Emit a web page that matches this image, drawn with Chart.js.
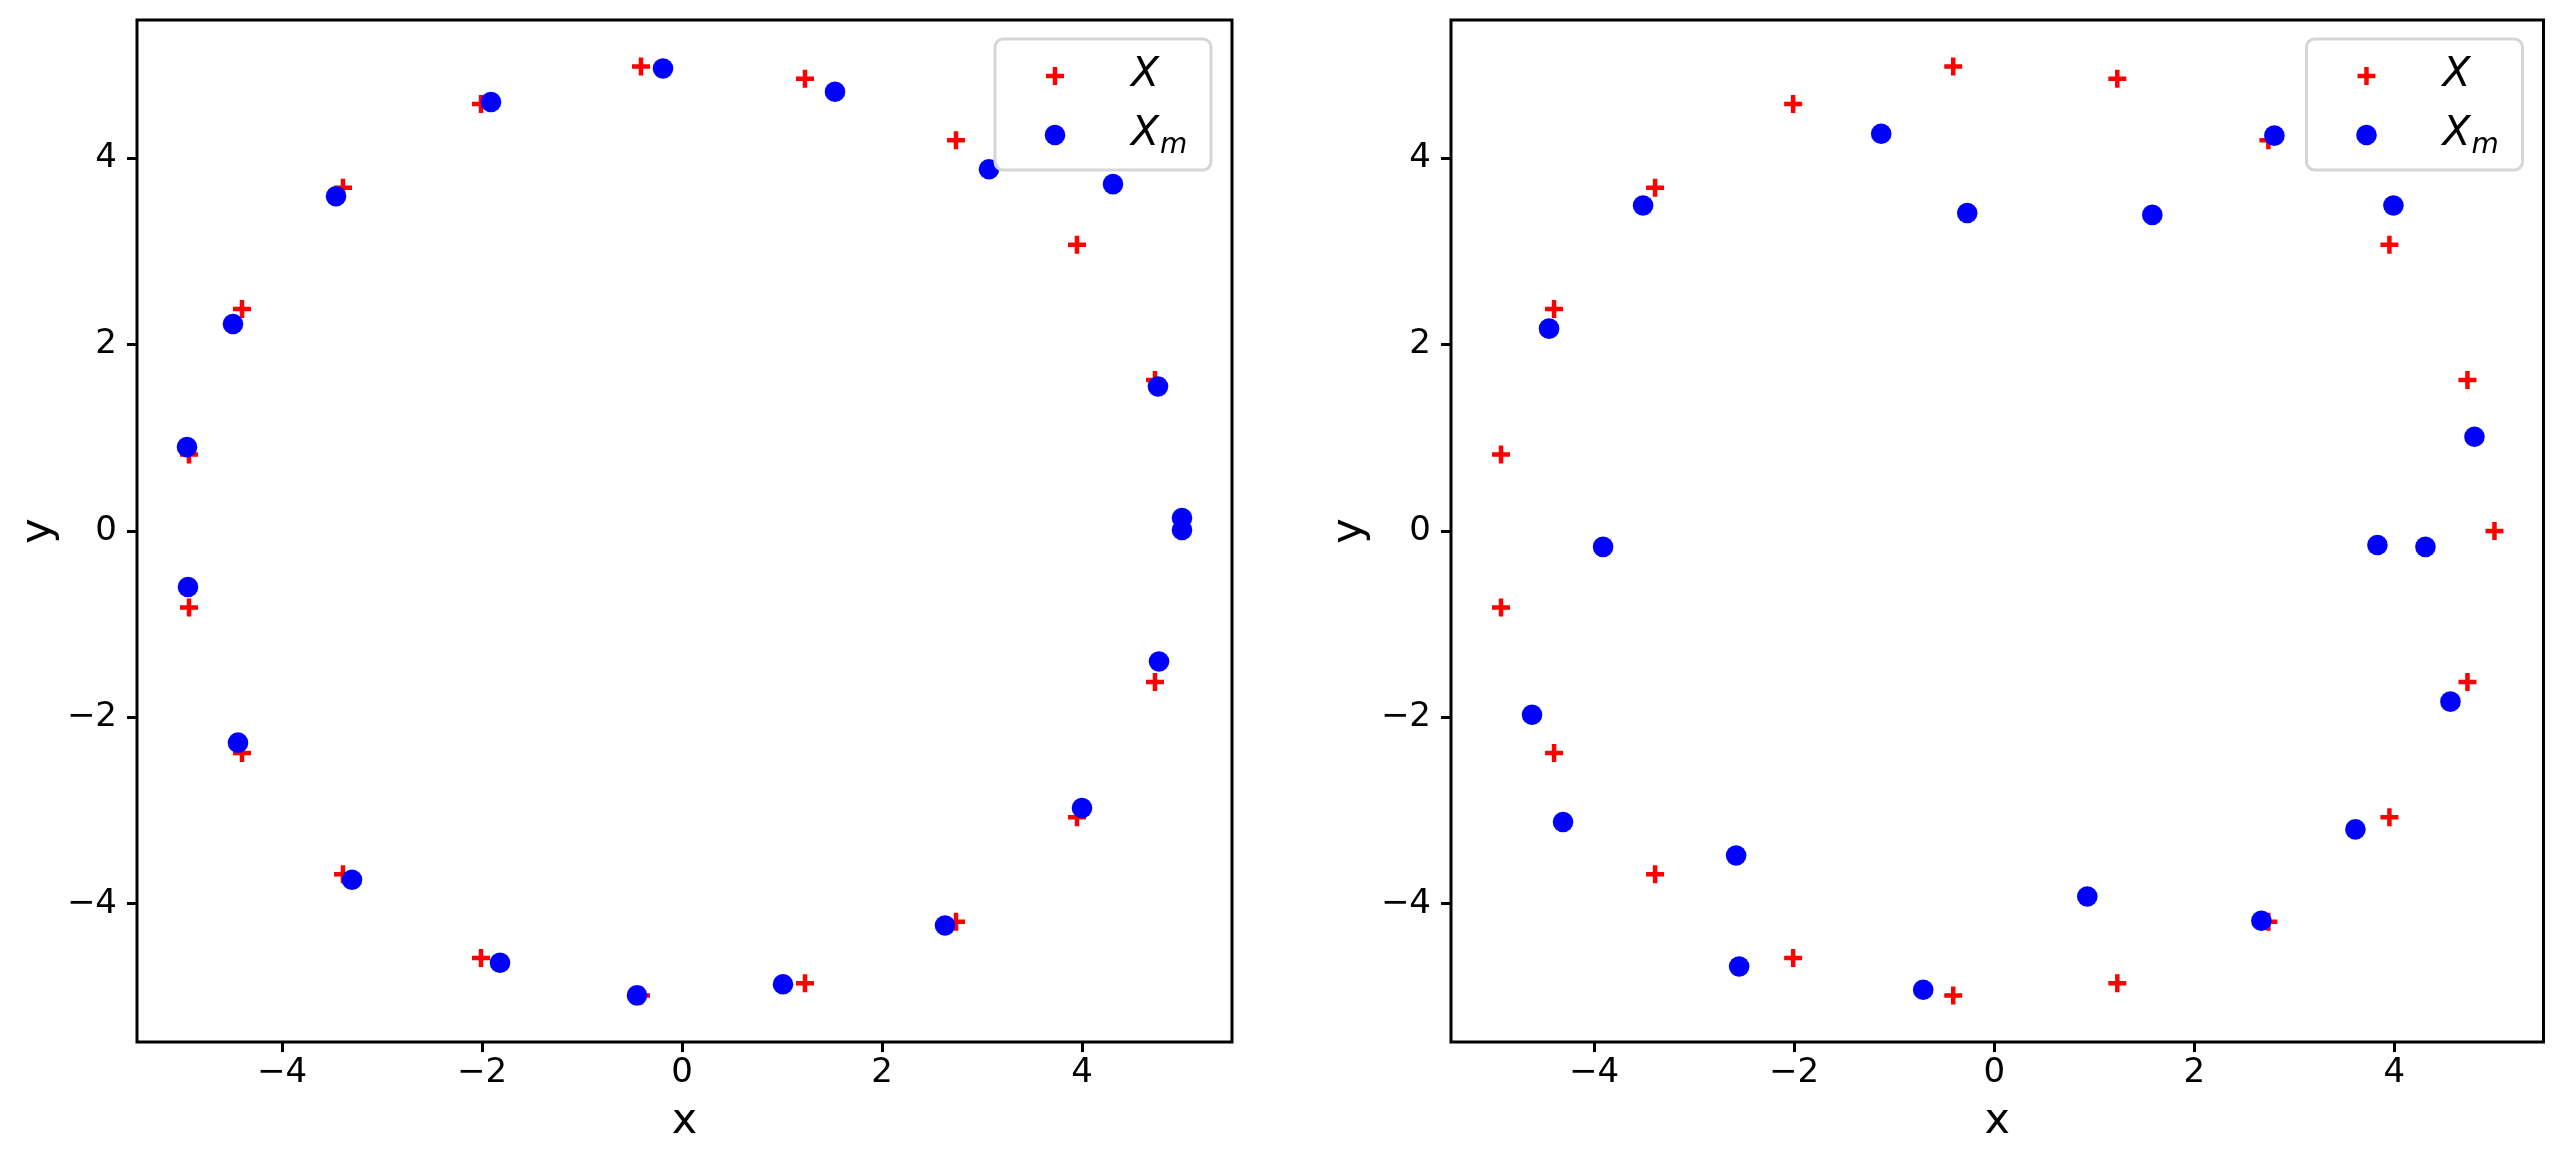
<!DOCTYPE html>
<html>
<head>
<meta charset="utf-8">
<script src="https://cdn.jsdelivr.net/npm/chart.js@4.4.1/dist/chart.umd.min.js"></script>
<style>
  html, body { margin: 0; padding: 0; background: #fff; overflow: hidden; }
  .panel { position: absolute; top: 0; }
</style>
</head>
<body>
<div class="panel" style="left:0"><canvas id="leftChart" width="1262" height="1157"></canvas></div>
<div class="panel" style="left:1290px"><canvas id="rightChart" width="1268" height="1157"></canvas></div>
<script>
// tick labels
const xTicks = [-4, -2, 0, 2, 4];
const yTicks = [-4, -2, 0, 2, 4];

// X : the points on the circle (same in both panels)
const trueX = [5.00, 4.73, 3.95, 2.74, 1.23, -0.41, -2.01, -3.39, -4.40, -4.93,
               -4.93, -4.40, -3.39, -2.01, -0.41, 1.23, 2.74, 3.95, 4.73];
const trueY = [0.00, 1.62, 3.07, 4.19, 4.85, 4.98, 4.58, 3.68, 2.38, 0.82,
               -0.82, -2.38, -3.68, -4.58, -4.98, -4.85, -4.19, -3.07, -1.62];

// X_m, left panel
const leftMx = [-0.19, 1.53, 3.07, 4.31, 4.76, 5.00, 5.00, 4.77, 4.00, 2.63,
                1.01, -0.45, -1.82, -3.30, -4.44, -4.94, -4.95, -4.49, -3.46, -1.91];
const leftMy = [4.96, 4.71, 3.88, 3.72, 1.55, 0.14, 0.01, -1.40, -2.97, -4.23,
                -4.86, -4.98, -4.63, -3.74, -2.27, -0.60, 0.90, 2.22, 3.59, 4.60];

// X_m, right panel
const rightMx = [-1.13, 2.80, -3.51, -0.27, 1.58, 3.99, -4.45, 4.80, -3.91, 3.83,
                 4.31, -4.62, 4.56, -4.31, 3.61, -2.58, 0.93, 2.67, -2.55, -0.71];
const rightMy = [4.26, 4.24, 3.49, 3.41, 3.39, 3.49, 2.17, 1.01, -0.17, -0.15,
                 -0.17, -1.97, -1.83, -3.12, -3.20, -3.48, -3.92, -4.18, -4.67, -4.92];

const FONT = "'DejaVu Sans', sans-serif";

function toPoints(xs, ys) {
  return xs.map((x, i) => ({ x: x, y: ys[i] }));
}

function tickLabel(v) {
  return v < 0 ? '\u2212' + Math.abs(v) : String(v);
}

const framePlugin = {
  id: 'frame',
  afterDatasetsDraw(chart) {
    const { ctx, chartArea: a } = chart;
    ctx.save();
    ctx.strokeStyle = '#000';
    ctx.lineWidth = 3;
    ctx.strokeRect(a.left, a.top, a.right - a.left, a.bottom - a.top);
    ctx.restore();
  }
};

// matplotlib style legend box in the upper right corner
const boxLegend = {
  id: 'boxLegend',
  afterDraw(chart) {
    const { ctx, chartArea: a } = chart;
    const w = 216, h = 131;
    const left = a.right - 21 - w, top = a.top + 19;
    ctx.save();
    ctx.beginPath();
    ctx.roundRect(left, top, w, h, 8);
    ctx.fillStyle = 'rgba(255,255,255,0.8)';
    ctx.fill();
    ctx.strokeStyle = '#d6d6d6';
    ctx.lineWidth = 3;
    ctx.stroke();

    chart.data.datasets.forEach((ds, i) => {
      const cy = top + 37 + i * 59;
      ctx.fillStyle = ds.backgroundColor;
      ctx.strokeStyle = ds.borderColor;
      ctx.lineWidth = ds.borderWidth;
      Chart.helpers.drawPoint(ctx, {
        pointStyle: ds.pointStyle, radius: ds.pointRadius,
        borderWidth: ds.borderWidth, rotation: 0
      }, left + 60, cy);

      const [base, sub] = ds.label.split('_');
      const tx = left + 136, baseline = cy + 10;
      ctx.fillStyle = '#000';
      ctx.textBaseline = 'alphabetic';
      ctx.textAlign = 'left';
      ctx.font = 'italic 41px ' + FONT;
      ctx.fillText(base, tx, baseline);
      if (sub) {
        const bw = ctx.measureText(base).width;
        ctx.font = 'italic 28px ' + FONT;
        ctx.fillText(sub, tx + bw + 1, baseline + 8);
      }
    });
    ctx.restore();
  }
};

function makeChart(id, mx, my, xMin, xMax, yWidth, rightPad, yTitlePad) {
  const ctx = document.getElementById(id).getContext('2d');
  return new Chart(ctx, {
    type: 'scatter',
    data: {
      datasets: [{
        label: 'X',
        data: toPoints(trueX, trueY),
        pointStyle: 'cross',
        pointRadius: 9,
        borderWidth: 4.5,
        borderColor: 'red',
        backgroundColor: 'red',
        order: 1
      }, {
        label: 'X_m',
        data: toPoints(mx, my),
        pointStyle: 'circle',
        pointRadius: 10.3,
        borderWidth: 0,
        borderColor: 'blue',
        backgroundColor: 'blue',
        order: 0
      }]
    },
    options: {
      responsive: false,
      animation: false,
      layout: { padding: { left: 0, top: 20, right: rightPad, bottom: 0 } },
      plugins: { legend: { display: false }, tooltip: { enabled: false } },
      elements: { point: { hoverRadius: 10 } },
      scales: {
        x: {
          type: 'linear',
          min: xMin,
          max: xMax,
          afterFit: s => { s.height = 115; s.paddingLeft = 0; s.paddingRight = 0; },
          afterBuildTicks: s => { s.ticks = xTicks.map(v => ({ value: v })); },
          border: { display: false },
          grid: { drawOnChartArea: false, drawTicks: true, tickLength: 10, lineWidth: 3, color: '#000' },
          ticks: {
            padding: 1, color: '#000', maxRotation: 0,
            font: { family: FONT, size: 34 },
            callback: tickLabel
          },
          title: {
            display: true, text: 'x', color: '#000',
            font: { family: FONT, size: 43, lineHeight: 1.2 },
            padding: { top: 0, bottom: 9 }
          }
        },
        y: {
          type: 'linear',
          min: -5.48,
          max: 5.48,
          afterFit: s => { s.width = yWidth; s.paddingTop = 0; s.paddingBottom = 0; },
          afterBuildTicks: s => { s.ticks = yTicks.map(v => ({ value: v })); },
          border: { display: false },
          grid: { drawOnChartArea: false, drawTicks: true, tickLength: 10, lineWidth: 3, color: '#000' },
          ticks: {
            padding: 10, color: '#000',
            font: { family: FONT, size: 34 },
            callback: tickLabel
          },
          title: {
            display: true, text: 'y', color: '#000',
            font: { family: FONT, size: 43, lineHeight: 1.2 },
            padding: { top: yTitlePad, bottom: 0 }
          }
        }
      }
    },
    plugins: [framePlugin, boxLegend]
  });
}

makeChart('leftChart', leftMx, leftMy, -5.45, 5.50, 137, 30, 13);
makeChart('rightChart', rightMx, rightMy, -5.43, 5.49, 161, 14, 34);
</script>
</body>
</html>
